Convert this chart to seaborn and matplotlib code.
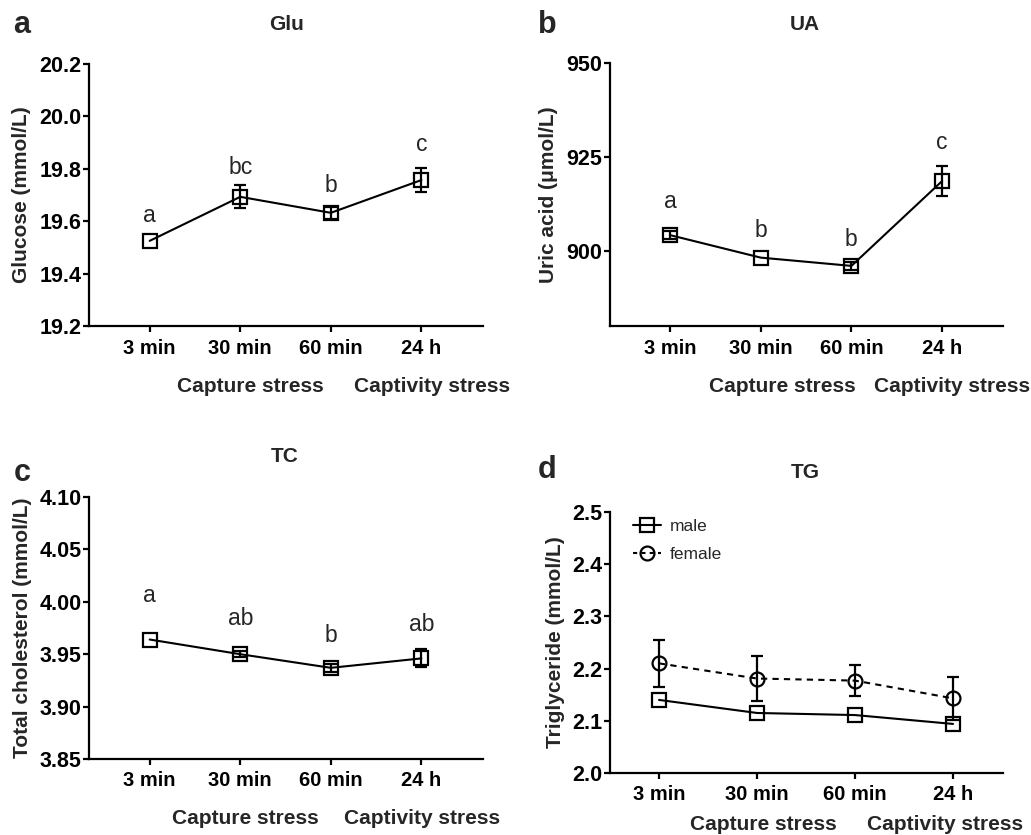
import numpy as np
import pandas as pd
import matplotlib
matplotlib.use("Agg")
import matplotlib.pyplot as plt
from matplotlib.lines import Line2D
import seaborn as sns

# time points
time_labels = ["3 min", "30 min", "60 min", "24 h"]
x_pos = np.arange(len(time_labels))

# a: glucose (sem 0 = bar hidden inside the symbol)
glu_mean = [19.525, 19.693, 19.632, 19.757]
glu_sem = [0.0, 0.044, 0.022, 0.046]
glu_letters = ["a", "bc", "b", "c"]
glu_letter_y = [19.597, 19.782, 19.712, 19.868]

# b: uric acid
ua_mean = [904.2, 898.2, 896.0, 918.6]
ua_sem = [1.0, 0.0, 1.0, 3.9]
ua_letters = ["a", "b", "b", "c"]
ua_letter_y = [911.5, 903.7, 901.3, 927.0]

# c: total cholesterol
tc_mean = [3.964, 3.950, 3.937, 3.946]
tc_sem = [0.0, 0.003, 0.004, 0.0086]
tc_letters = ["a", "ab", "b", "ab"]
tc_letter_y = [3.9994, 3.978, 3.962, 3.972]

# d: triglyceride by sex
tg_male_mean = [2.140, 2.115, 2.111, 2.094]
tg_male_sem = [0.0, 0.0, 0.0, 0.0]
tg_female_mean = [2.210, 2.181, 2.177, 2.143]
tg_female_sem = [0.045, 0.044, 0.030, 0.041]

sns.set_style("ticks")
plt.rcParams["font.family"] = ["Liberation Sans", "DejaVu Sans"]
plt.rcParams["font.weight"] = "bold"
plt.rcParams["axes.labelweight"] = "bold"

W, H = 1031, 835
fig = plt.figure(figsize=(W / 100, H / 100), dpi=100)


def px_axes(x0, y0, x1, y1):
    return fig.add_axes([x0 / W, 1 - y1 / H, (x1 - x0) / W, (y1 - y0) / H])


def style_axes(ax, ylim, yticks, fmt, ylabel, xlim, label_x):
    ax.set_xlim(*xlim)
    ax.set_ylim(*ylim)
    ax.set_yticks(yticks)
    ax.set_yticklabels([fmt.format(t) for t in yticks])
    ax.set_xticks(x_pos)
    ax.set_xticklabels(time_labels)
    ax.set_xlabel("")
    ax.set_ylabel(ylabel, fontsize=15, fontweight="bold")
    ax.yaxis.set_label_coords(label_x, 0.5)
    for s in ["top", "right"]:
        ax.spines[s].set_visible(False)
    for s in ["left", "bottom"]:
        ax.spines[s].set_linewidth(1.6)
        ax.spines[s].set_color("black")
    ax.tick_params(axis="y", length=4, width=1.6, pad=1.5, labelsize=15.5, colors="black")
    ax.tick_params(axis="x", length=4, width=1.6, pad=5, labelsize=14.5, colors="black")
    for lbl in ax.get_xticklabels() + ax.get_yticklabels():
        lbl.set_fontweight("bold")


def draw_series(ax, mean, sem, marker, dashes=None, ms=9.5):
    df = pd.DataFrame({"t": x_pos, "v": mean, "e": sem})
    sns.lineplot(data=df, x="t", y="v", ax=ax, color="black", linewidth=1.5,
                 marker=marker, markersize=ms, markerfacecolor="none",
                 markeredgecolor="black", markeredgewidth=1.6)
    if dashes:
        ax.lines[-1].set_dashes(dashes)
    shown = df[df["e"] > 0]
    if len(shown):
        ax.errorbar(shown["t"], shown["v"], yerr=shown["e"], fmt="none", ecolor="black",
                    elinewidth=1.6, capsize=4.5, capthick=1.6, zorder=3)


def letters(ax, ys, labs):
    for xi, yi, s in zip(x_pos, ys, labs):
        ax.text(xi, yi, s, ha="center", va="baseline", fontsize=16.5, fontweight="normal")


def ftext(x, y, s, size, weight="bold", ha="center"):
    fig.text(x / W, 1 - y / H, s, ha=ha, va="center", fontsize=size, fontweight=weight)


# panel a
ax_a = px_axes(89, 64, 483, 326)
draw_series(ax_a, glu_mean, glu_sem, "s")
letters(ax_a, glu_letter_y, glu_letters)
style_axes(ax_a, (19.2, 20.2), [19.2, 19.4, 19.6, 19.8, 20.0, 20.2], "{:.1f}",
           "Glucose (mmol/L)", (-0.67, 3.68), -0.147)

# panel b
ax_b = px_axes(610, 63, 1003, 326)
draw_series(ax_b, ua_mean, ua_sem, "s")
letters(ax_b, ua_letter_y, ua_letters)
style_axes(ax_b, (880, 950), [900, 925, 950], "{:.0f}",
           "Uric acid (\u03bcmol/L)", (-0.66, 3.67), -0.132)

# panel c
ax_c = px_axes(89, 497, 483, 759)
draw_series(ax_c, tc_mean, tc_sem, "s")
letters(ax_c, tc_letter_y, tc_letters)
style_axes(ax_c, (3.85, 4.10), [3.85, 3.90, 3.95, 4.00, 4.05, 4.10], "{:.2f}",
           "Total cholesterol (mmol/L)", (-0.67, 3.68), -0.145)

# panel d
ax_d = px_axes(610, 512, 1003, 773)
draw_series(ax_d, tg_male_mean, tg_male_sem, "s")
draw_series(ax_d, tg_female_mean, tg_female_sem, "o", dashes=(3, 2.5), ms=10)
style_axes(ax_d, (2.0, 2.5), [2.0, 2.1, 2.2, 2.3, 2.4, 2.5], "{:.1f}",
           "Triglyceride (mmol/L)", (-0.5, 3.51), -0.115)
handles = [
    Line2D([], [], color="black", lw=1.5, marker="s", ms=9.5, mfc="none", mew=1.6),
    Line2D([], [], color="black", lw=1.5, marker="o", ms=10, mfc="none", mew=1.6,
           dashes=(2, 2)),
]
leg = ax_d.legend(handles, ["male", "female"], loc="upper left",
                  bbox_to_anchor=(0.02, 1.035), frameon=False, handlelength=1.6,
                  handletextpad=0.5, labelspacing=0.75,
                  prop={"size": 12.5, "weight": "normal"})

# panel labels and titles
ftext(22, 25, "a", 22)
ftext(287, 25, "Glu", 15)
ftext(547, 25, "b", 22)
ftext(805, 25, "UA", 15)
ftext(22, 473, "c", 22)
ftext(285, 457, "TC", 15)
ftext(547, 470, "d", 22)
ftext(805, 473, "TG", 15)

# stress-phase captions
cap = 15
ftext(250, 387, "Capture stress", cap)
ftext(432, 387, "Captivity stress", cap)
ftext(782, 387, "Capture stress", cap)
ftext(952, 387, "Captivity stress", cap)
ftext(245, 818, "Capture stress", cap)
ftext(422, 818, "Captivity stress", cap)
ftext(763, 825, "Capture stress", cap)
ftext(945, 825, "Captivity stress", cap)

fig.savefig("out.png", dpi=100, facecolor="white")
